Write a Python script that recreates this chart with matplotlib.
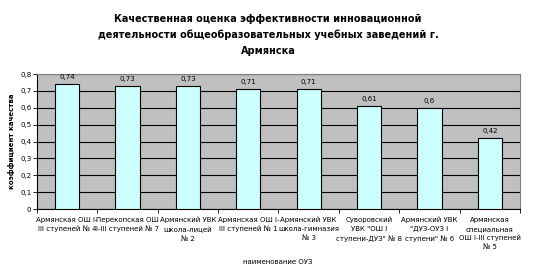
import matplotlib.pyplot as plt
import numpy as np

categories = [
    "Армянская ОШ I-\nIII ступеней № 4",
    "Перекопская ОШ\nI-III ступеней № 7",
    "Армянский УВК\nшкола-лицей\n№ 2",
    "Армянская ОШ I-\nIII ступеней № 1",
    "Армянский УВК\nшкола-гимназия\n№ 3",
    "Суворовский\nУВК \"ОШ I\nступени-ДУЗ\" № 8",
    "Армянский УВК\n\"ДУЗ-ОУЗ I\nступени\" № 6",
    "Армянская\nспециальная\nОШ I-III ступеней\n№ 5",
]
values = [0.74, 0.73, 0.73, 0.71, 0.71, 0.61, 0.6, 0.42]
value_labels = ["0,74", "0,73", "0,73", "0,71", "0,71", "0,61", "0,6", "0,42"]
yticks = [0, 0.1, 0.2, 0.3, 0.4, 0.5, 0.6, 0.7, 0.8]
ytick_labels = ["0", "0,1", "0,2", "0,3", "0,4", "0,5", "0,6", "0,7", "0,8"]

plt.rcParams['font.family'] = ['DejaVu Sans']

fig = plt.figure(figsize=(5.35, 2.74), dpi=100)
ax = fig.add_axes([37/535, 1 - 209/274, (520-37)/535, (209-74)/274])

x = np.arange(len(categories))
ax.set_facecolor('#C0C0C0')
ax.bar(x, values, width=0.4, color='#CCFFFF', edgecolor='black', linewidth=0.8, zorder=3)
for xi, v, lab in zip(x, values, value_labels):
    ax.text(xi, v + 0.025, lab, ha='center', va='bottom', fontsize=5)

ax.set_xlim(-0.5, len(categories) - 0.5)
ax.set_ylim(0, 0.8)
ax.set_yticks(yticks)
ax.set_yticklabels(ytick_labels, fontsize=5)
ax.yaxis.grid(True, color='black', linewidth=0.8, zorder=1)
ax.set_axisbelow(True)

ax.set_xticks(np.arange(len(categories) + 1) - 0.5, minor=False)
ax.set_xticklabels([])
ax.tick_params(axis='x', length=3, width=0.6, direction='out')
ax.tick_params(axis='y', length=3, width=0.6, direction='out', pad=1)
for xi, lab in zip(x, categories):
    ax.text(xi, -0.045, lab, ha='center', va='top', fontsize=5, linespacing=1.6,
            transform=ax.transData)

for s in ['top', 'right']:
    ax.spines[s].set_color('#808080')
    ax.spines[s].set_linewidth(0.8)
for s in ['left', 'bottom']:
    ax.spines[s].set_color('black')
    ax.spines[s].set_linewidth(0.8)

ax.set_ylabel("коэффициент качества", fontsize=5, fontweight='bold', labelpad=4)
fig.text(278/535, 1 - 262/274, "наименование ОУЗ", ha='center', va='center', fontsize=5)

fig.text(268/535, 1 - 35/274,
         "Качественная оценка эффективности инновационной\n"
         "деятельности общеобразовательных учебных заведений г.\n"
         "Армянска",
         ha='center', va='center', fontsize=7, fontweight='bold', linespacing=1.75)

fig.savefig("out.png", dpi=100)
